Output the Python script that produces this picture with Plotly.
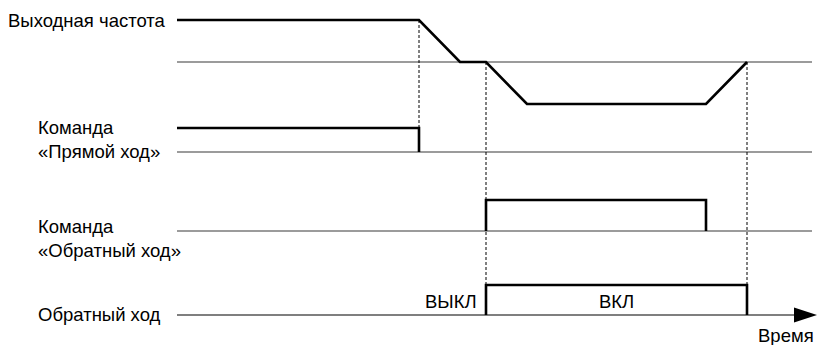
import plotly.graph_objects as go

# time points (arbitrary units, 0 = left end of the traces)
t_fwd_off = 242
t_decel_end = 283
t_rev_on = 309
t_rev_full = 350
t_rev_off = 529
t_stop = 570
t_end = 640

# signal levels (1 = high, 0 = base, -1 = reverse)
freq_t = [0, t_fwd_off, t_decel_end, t_rev_on, t_rev_full, t_rev_off, t_stop]
freq_v = [1, 1, 0, 0, -1, -1, 0]
fwd_t = [0, t_fwd_off, t_fwd_off]
fwd_v = [1, 1, 0]
revcmd_t = [t_rev_on, t_rev_on, t_rev_off, t_rev_off]
revcmd_v = [0, 1, 1, 0]
revrun_t = [t_rev_on, t_rev_on, t_stop, t_stop]
revrun_v = [0, 1, 1, 0]

row_labels = ["Выходная частота", "Команда<br>«Прямой ход»",
              "Команда<br>«Обратный ход»", "Обратный ход"]

# row layout: baseline and amplitude of each row (plot units, y down)
rows = {
    "freq": (62, 42),
    "fwd": (152, 24),
    "revcmd": (231, 31),
    "revrun": (315, 30),
}

FONT = "Liberation Sans, Arial, sans-serif"
FS = 18.5
fig = go.Figure()

def ys(row, vals):
    base, amp = rows[row]
    return [base - amp * v for v in vals]

# grey baselines
for row in ["freq", "fwd", "revcmd"]:
    fig.add_trace(go.Scatter(x=[0, t_end - 5], y=ys(row, [0, 0]), mode="lines",
                             line=dict(color="#7a7a7a", width=1.6), hoverinfo="skip"))
# time axis with arrow
arrow_len, arrow_half = 23, 7.5
base_rr = rows["revrun"][0]
fig.add_trace(go.Scatter(x=[0, t_end - arrow_len], y=[base_rr, base_rr], mode="lines",
                         line=dict(color="#555555", width=1.6), hoverinfo="skip"))
fig.add_shape(type="path", xref="x", yref="y", fillcolor="black", line=dict(width=0),
              path=f"M {t_end - arrow_len},{base_rr - arrow_half} L {t_end},{base_rr} "
                   f"L {t_end - arrow_len},{base_rr + arrow_half} Z")

# dashed guides
guides = [(t_fwd_off, rows["freq"][0] - rows["freq"][1], rows["fwd"][0]),
          (t_rev_on, rows["freq"][0], rows["revrun"][0]),
          (t_stop, rows["freq"][0], rows["revrun"][0])]
for gx, y0, y1 in guides:
    fig.add_trace(go.Scatter(x=[gx, gx], y=[y0, y1], mode="lines",
                             line=dict(color="black", width=1, dash="3px,2px"),
                             hoverinfo="skip"))

# signals
for row, t, v in [("freq", freq_t, freq_v), ("fwd", fwd_t, fwd_v),
                  ("revcmd", revcmd_t, revcmd_v), ("revrun", revrun_t, revrun_v)]:
    fig.add_trace(go.Scatter(x=t, y=ys(row, v), mode="lines",
                             line=dict(color="black", width=2.6), hoverinfo="skip"))

# row labels
label_pos = [(-9, rows["freq"][0] - rows["freq"][1], "right"),
             (-141, 139, "left"),
             (-141, 238, "left"),
             (-141, rows["revrun"][0] - 1, "left")]
for text, (lx, ly, anc) in zip(row_labels, label_pos):
    fig.add_annotation(x=lx, y=ly, text=text, showarrow=False, xanchor=anc,
                       yanchor="middle", align="left",
                       font=dict(family=FONT, size=FS, color="black"))

fig.add_annotation(x=t_rev_on - 7, y=base_rr - 14, text="ВЫКЛ", showarrow=False,
                   xanchor="right", yanchor="middle", font=dict(family=FONT, size=FS, color="black"))
fig.add_annotation(x=(t_rev_on + t_stop) / 2, y=base_rr - 14, text="ВКЛ",
                   showarrow=False, xanchor="center", yanchor="middle",
                   font=dict(family=FONT, size=FS, color="black"))
fig.add_annotation(x=t_end - 1, y=335, text="Время", showarrow=False, xanchor="right",
                   yanchor="middle", font=dict(family=FONT, size=FS, color="black"))

fig.update_layout(
    width=818, height=345, margin=dict(l=0, r=0, t=0, b=0),
    paper_bgcolor="white", plot_bgcolor="white", showlegend=False,
    xaxis=dict(range=[-177, 641], visible=False, fixedrange=True),
    yaxis=dict(range=[345, 0], visible=False, fixedrange=True),
)

# drop the default 8px page margin so the figure fills the window
fig.write_html("out.html", config={"displayModeBar": False},
               post_script="document.body.style.margin='0';")
